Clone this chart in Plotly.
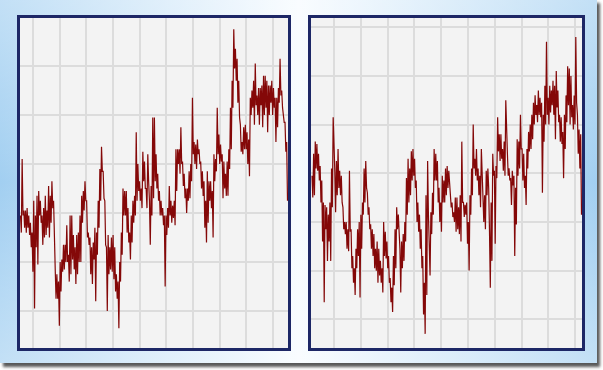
import base64
import numpy as np
import plotly.graph_objects as go

# ---------------- data (anomaly values) ----------------
# Each step of the series is given as a local high and a local low.
left_high = [
    -0.01, 0.22, 0.01, 0.01, 0.02, -0.01, -0.04, -0.08, 0.05, -0.01,
    0.07, 0.09, 0.05, -0.01, 0.02, 0.07, 0.01, 0.11, 0.07, 0.13,
    0.05, -0.23, -0.25, -0.28, -0.20, -0.19, -0.13, -0.13, -0.05, -0.17,
    -0.01, -0.01, -0.09, -0.14, -0.09, -0.08, -0.01, 0.07, 0.09, 0.13,
    0.05, -0.08, -0.10, -0.14, -0.12, -0.06, -0.08, 0.05, 0.18, 0.27,
    0.17, 0.05, -0.14, -0.09, -0.14, -0.10, -0.09, -0.14, -0.25, -0.28,
    -0.20, -0.08, 0.10, 0.09, 0.09, 0.02, -0.08, -0.01, 0.05, 0.07,
    0.33, 0.20, 0.13, 0.10, 0.25, 0.21, 0.10, 0.24, 0.05, 0.11,
    0.39, 0.39, 0.24, 0.16, 0.09, 0.05, 0.02, -0.01, -0.01, 0.02,
    0.11, 0.05, 0.03, 0.05, 0.26, 0.26, 0.26, 0.35, 0.21, 0.16,
    0.10, 0.10, 0.17, 0.20, 0.47, 0.29, 0.28, 0.30, 0.26, 0.21,
    0.17, 0.13, 0.05, 0.17, 0.13, 0.13, 0.09, 0.24, 0.22, 0.43,
    0.32, 0.28, 0.24, 0.21, 0.16, 0.21, 0.26, 0.43, 0.54, 0.75,
    0.67, 0.63, 0.54, 0.36, 0.29, 0.35, 0.36, 0.33, 0.30, 0.47,
    0.50, 0.54, 0.61, 0.48, 0.51, 0.51, 0.52, 0.56, 0.56, 0.54,
    0.52, 0.52, 0.54, 0.51, 0.47, 0.47, 0.51, 0.63, 0.50, 0.40,
    0.37, 0.29,
]
left_low = [
    -0.08, -0.01, -0.06, -0.08, -0.06, -0.09, -0.14, -0.24, -0.39, -0.14,
    -0.21, -0.01, -0.04, -0.13, -0.10, -0.09, -0.06, -0.10, -0.04, 0.02,
    -0.17, -0.35, -0.35, -0.46, -0.32, -0.24, -0.23, -0.20, -0.20, -0.28,
    -0.25, -0.19, -0.23, -0.29, -0.25, -0.20, -0.20, -0.04, 0.01, 0.05,
    -0.10, -0.13, -0.25, -0.29, -0.19, -0.36, -0.17, -0.06, 0.05, 0.17,
    0.06, -0.13, -0.40, -0.25, -0.23, -0.24, -0.27, -0.32, -0.35, -0.47,
    -0.28, -0.17, -0.01, -0.01, -0.08, -0.12, -0.19, -0.12, -0.04, -0.01,
    0.05, 0.09, 0.05, 0.02, 0.13, 0.10, 0.02, 0.13, -0.13, -0.01,
    0.06, 0.13, 0.10, 0.05, -0.01, -0.01, -0.05, -0.30, -0.09, -0.06,
    -0.01, -0.04, -0.02, -0.05, 0.09, 0.20, 0.16, 0.20, 0.11, 0.06,
    0.00, 0.05, 0.06, 0.13, 0.24, 0.20, 0.18, 0.24, 0.20, 0.10,
    0.07, -0.06, -0.12, -0.04, 0.05, 0.02, -0.10, 0.13, 0.17, 0.24,
    0.20, 0.21, 0.06, 0.10, 0.07, 0.07, 0.18, 0.26, 0.43, 0.59,
    0.54, 0.45, 0.39, 0.25, 0.24, 0.26, 0.26, 0.20, 0.15, 0.40,
    0.43, 0.36, 0.44, 0.40, 0.36, 0.44, 0.35, 0.40, 0.43, 0.33,
    0.40, 0.45, 0.40, 0.43, 0.29, 0.35, 0.45, 0.48, 0.43, 0.37,
    0.25, 0.05,
]
right_high = [
    -0.01, 0.08, 0.13, 0.12, 0.08, 0.03, -0.03, -0.12, -0.13, -0.14,
    -0.17, -0.12, 0.02, 0.23, 0.01, 0.05, 0.10, 0.01, -0.01, -0.14,
    -0.20, -0.20, -0.23, 0.01, -0.23, -0.34, -0.39, -0.31, -0.23, -0.20,
    -0.17, -0.12, 0.02, 0.05, -0.08, -0.14, -0.21, -0.23, -0.25, -0.31,
    -0.28, -0.31, -0.36, -0.39, -0.20, -0.24, -0.28, -0.34, -0.43, -0.47,
    -0.34, -0.23, -0.14, -0.17, -0.31, -0.28, -0.25, -0.20, -0.02, 0.06,
    0.02, 0.09, 0.10, 0.06, -0.03, -0.12, -0.17, -0.23, -0.34, -0.45,
    -0.09, 0.05, -0.28, -0.16, -0.08, 0.10, 0.08, 0.05, -0.06, -0.12,
    -0.01, -0.03, 0.02, 0.03, 0.01, -0.08, -0.12, -0.16, -0.10, -0.10,
    -0.14, -0.09, 0.13, -0.12, -0.13, -0.12, -0.20, -0.09, 0.02, 0.20,
    0.06, 0.10, 0.02, -0.01, 0.10, -0.03, -0.09, 0.01, 0.02, -0.24,
    -0.12, 0.08, 0.01, 0.03, 0.23, 0.16, 0.16, 0.10, 0.13, 0.30,
    0.08, 0.02, -0.02, 0.01, -0.01, -0.06, 0.14, 0.13, 0.24, 0.10,
    0.08, -0.01, 0.10, 0.17, 0.20, 0.24, 0.29, 0.32, 0.28, 0.34,
    0.31, 0.29, 0.24, 0.36, 0.54, 0.31, 0.36, 0.34, 0.38, 0.36,
    0.42, 0.34, 0.24, 0.23, 0.17, 0.24, 0.32, 0.44, 0.43, 0.40,
    0.28, 0.32, 0.56, 0.24, 0.18, 0.16,
]
right_low = [
    -0.10, -0.09, 0.02, 0.01, -0.03, -0.12, -0.28, -0.53, -0.23, -0.36,
    -0.28, -0.36, -0.14, 0.03, -0.16, -0.09, -0.06, -0.09, -0.12, -0.23,
    -0.25, -0.31, -0.32, -0.24, -0.39, -0.45, -0.50, -0.39, -0.34, -0.51,
    -0.31, -0.17, -0.12, -0.06, -0.17, -0.23, -0.31, -0.34, -0.39, -0.40,
    -0.45, -0.42, -0.45, -0.49, -0.34, -0.35, -0.39, -0.45, -0.53, -0.57,
    -0.46, -0.39, -0.23, -0.24, -0.49, -0.39, -0.36, -0.28, -0.17, -0.12,
    -0.09, -0.03, -0.01, -0.06, -0.20, -0.24, -0.31, -0.39, -0.58, -0.66,
    -0.50, -0.17, -0.42, -0.25, -0.17, -0.03, -0.03, -0.12, -0.20, -0.24,
    -0.12, -0.12, -0.09, -0.06, -0.06, -0.14, -0.18, -0.20, -0.24, -0.23,
    -0.25, -0.28, -0.12, -0.18, -0.17, -0.29, -0.40, -0.17, -0.09, 0.02,
    -0.01, -0.03, -0.09, -0.14, -0.01, -0.20, -0.23, -0.09, -0.06, -0.47,
    -0.36, -0.01, -0.29, -0.02, 0.09, 0.05, 0.06, 0.01, -0.01, 0.10,
    -0.01, -0.03, -0.13, -0.05, -0.34, -0.21, -0.01, 0.02, 0.10, -0.03,
    -0.06, -0.13, 0.02, 0.09, 0.10, 0.14, 0.20, 0.24, 0.21, 0.24,
    0.23, -0.08, 0.13, 0.20, 0.24, 0.20, 0.25, 0.28, 0.24, 0.14,
    0.27, 0.21, 0.13, 0.12, -0.02, 0.10, 0.21, 0.28, 0.20, 0.23,
    0.18, 0.20, 0.29, 0.08, 0.02, -0.17,
]

# ---------------- layout constants ----------------
W, H = 603, 370
LINE_COLOR = "#840808"
BORDER = "#1d2766"
GRID = "#dcdcdc"
PLOT_BG = "#f3f3f3"


def series(high, low):
    vals = np.column_stack([high, low]).ravel()
    return np.arange(len(vals)), vals


def x_axis(n, inner_l, inner_r, data_l, data_r, grid0, gstep):
    upp = (n - 1) / (data_r - data_l)
    rng = [-(data_l - inner_l) * upp, (n - 1) + (inner_r - data_r) * upp]
    return rng, (grid0 - data_l) * upp, gstep * upp


TOP, BOTTOM = 18, 348
panels = [
    dict(hi=left_high, lo=left_low, l=20, r=288, dl=20.5, dr=287.5,
         g0=33, gs=26.67, yr=[-0.551, 0.796]),
    dict(hi=right_high, lo=right_low, l=311, r=582, dl=312, dr=581.5,
         g0=334, gs=26.8, yr=[-0.718, 0.638]),
]

fig = go.Figure()
shapes = []
for i, p in enumerate(panels, start=1):
    x, y = series(p["hi"], p["lo"])
    rng, t0, dt = x_axis(len(x), p["l"], p["r"], p["dl"], p["dr"], p["g0"], p["gs"])
    xa = "x" if i == 1 else f"x{i}"
    ya = "y" if i == 1 else f"y{i}"
    fig.add_trace(go.Scatter(x=x, y=y, mode="lines", xaxis=xa, yaxis=ya,
                             line=dict(color=LINE_COLOR, width=1.2),
                             showlegend=False, hoverinfo="skip"))
    common = dict(showticklabels=False, ticks="", zeroline=False,
                  showline=True, mirror=True, linecolor=BORDER, linewidth=3,
                  showgrid=True, gridcolor=GRID, gridwidth=1.5)
    fig.layout[f"xaxis{'' if i == 1 else i}"] = dict(
        domain=[p["l"] / W, p["r"] / W], range=rng, tick0=t0, dtick=dt,
        anchor=ya, **common)
    fig.layout[f"yaxis{'' if i == 1 else i}"] = dict(
        domain=[1 - BOTTOM / H, 1 - TOP / H], range=p["yr"], tick0=0, dtick=0.2,
        anchor=xa, **common)
    # panel background (drawn above the frame image)
    shapes.append(dict(type="rect", xref="paper", yref="paper", layer="below",
                       x0=p["l"] / W, x1=p["r"] / W,
                       y0=1 - BOTTOM / H, y1=1 - TOP / H,
                       fillcolor=PLOT_BG, line=dict(width=0)))

# decorative frame (gradient + drop shadow) as an SVG background image
svg = f"""<svg xmlns='http://www.w3.org/2000/svg' width='{W}' height='{H}'>
<defs>
<linearGradient id='g' x1='0' x2='1' y1='0' y2='0'>
<stop offset='0' stop-color='#a2cff1'/>
<stop offset='0.5' stop-color='#f6fbff'/>
<stop offset='1' stop-color='#a2cff1'/>
</linearGradient>
<linearGradient id='v' x1='0' x2='0' y1='0' y2='1'>
<stop offset='0' stop-color='#ffffff' stop-opacity='0.35'/>
<stop offset='0.5' stop-color='#ffffff' stop-opacity='0'/>
<stop offset='1' stop-color='#ffffff' stop-opacity='0.35'/>
</linearGradient>
<filter id='b' x='-5%' y='-5%' width='110%' height='110%'><feGaussianBlur stdDeviation='1.6'/></filter>
</defs>
<rect x='0' y='0' width='{W}' height='{H}' fill='#ffffff'/>
<rect x='3' y='3' width='597' height='364' fill='#3a3a3a' opacity='0.85' filter='url(#b)'/>
<rect x='0' y='0' width='597' height='363' fill='url(#g)'/>
<rect x='0' y='0' width='597' height='363' fill='url(#v)'/>
</svg>"""
src = "data:image/svg+xml;base64," + base64.b64encode(svg.encode()).decode()

fig.update_layout(
    width=W, height=H, margin=dict(l=0, r=0, t=0, b=0, pad=0),
    paper_bgcolor="#ffffff", plot_bgcolor=PLOT_BG,
    images=[dict(source=src, xref="paper", yref="paper", x=0, y=1,
                 sizex=1, sizey=1, xanchor="left", yanchor="top",
                 sizing="stretch", layer="below")],
    shapes=shapes,
)

fig.write_html("out.html", config={"displayModeBar": False})
